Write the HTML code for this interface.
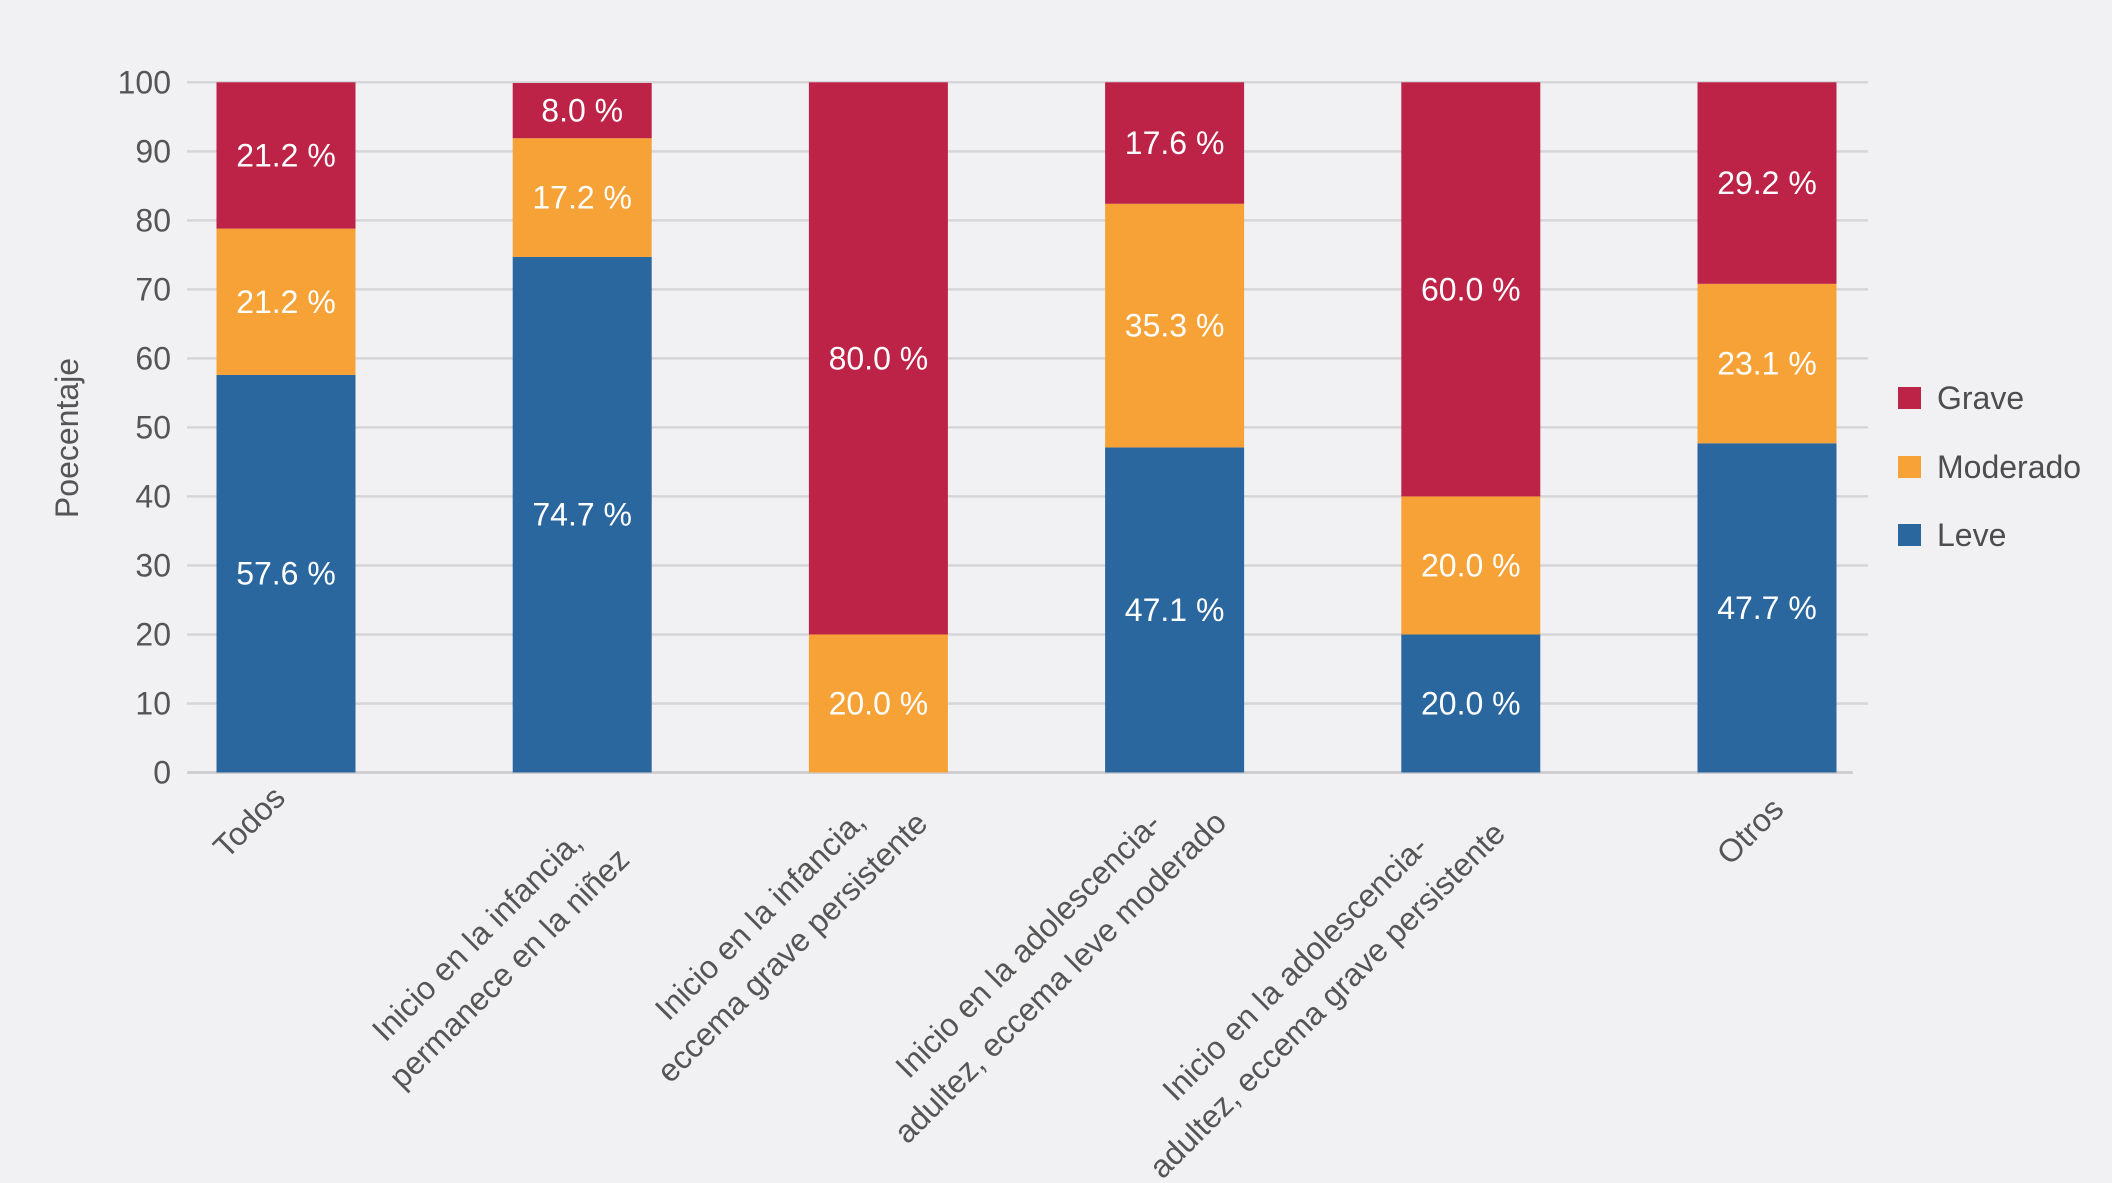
<!DOCTYPE html>
<html><head><meta charset="utf-8"><title>Gravedad por fenotipo</title>
<style>
html,body{margin:0;padding:0;background:#f1f1f3;}
svg{display:block;font-family:"Liberation Sans",Arial,sans-serif;}
</style></head>
<body>
<svg id="chart" width="2112" height="1183" viewBox="0 0 2112 1183" xmlns="http://www.w3.org/2000/svg">
<rect x="0" y="0" width="2112" height="1183" fill="#f1f1f3"/>
<g id="grid"></g>
<g id="yticks"></g>
<g id="bars"></g>
<g id="vals"></g>
<g id="xlabels"></g>
<text x="67" y="438" transform="rotate(-90 67 438)" text-anchor="middle" dominant-baseline="central" font-size="32" fill="#555">Poecentaje</text>
<g>
  <g>
    <rect x="1898" y="387" width="23" height="22" fill="#bc2347"/>
    <text x="1937" y="398" dominant-baseline="central" font-size="32" fill="#4d4d4f">Grave</text>
  </g>
  <g>
    <rect x="1898" y="456" width="23" height="22" fill="#f7a237"/>
    <text x="1937" y="467" dominant-baseline="central" font-size="32" fill="#4d4d4f">Moderado</text>
  </g>
  <g>
    <rect x="1898" y="524" width="23" height="22" fill="#2b679f"/>
    <text x="1937" y="535" dominant-baseline="central" font-size="32" fill="#4d4d4f">Leve</text>
  </g>
</g>
</svg>
<script>
const categories = ["Todos","Inicio en la infancia, permanece en la niñez","Inicio en la infancia, eccema grave persistente","Inicio en la adolescencia-adultez, eccema leve moderado","Inicio en la adolescencia-adultez, eccema grave persistente","Otros"];
const leve = [57.6, 74.7, 0, 47.1, 20.0, 47.7];
const moderado = [21.2, 17.2, 20.0, 35.3, 20.0, 23.1];
const grave = [21.2, 8.0, 80.0, 17.6, 60.0, 29.2];
const yTicks = [0,10,20,30,40,50,60,70,80,90,100];
const labelLines = [["Todos"],["Inicio en la infancia,","permanece en la niñez"],["Inicio en la infancia,","eccema grave persistente"],["Inicio en la adolescencia-","adultez, eccema leve moderado"],["Inicio en la adolescencia-","adultez, eccema grave persistente"],["Otros"]];

const NS = "http://www.w3.org/2000/svg";
const Y0 = 772.5, Y100 = 82.3, X0 = 286, STEP = 296.2, BW = 139;
const yScale = v => Y0 + (Y100 - Y0) * v / 100;
const xScale = i => X0 + i * STEP;
function mk(tag, attrs, parent){const e=document.createElementNS(NS,tag);for(const k in attrs)e.setAttribute(k,attrs[k]);parent.appendChild(e);return e;}

const grid = document.getElementById('grid');
const yt = document.getElementById('yticks');
yTicks.forEach(t=>{
  const y = yScale(t);
  const l = mk('line',{x1:187,x2:t===0?1853:1868,y1:y,y2:y,stroke:t===0?'#cfcfd1':'#d6d6d8','stroke-width':t===0?3:2.5},grid);
  
  
  const tx = mk('text',{x:171,y:y,'text-anchor':'end','dominant-baseline':'central','font-size':32,fill:'#555'},yt);
  tx.textContent = t;
  
  
});

const bars = document.getElementById('bars');
const vals = document.getElementById('vals');
const series = [{d:leve,c:'#2b679f',n:'leve'},{d:moderado,c:'#f7a237',n:'moderado'},{d:grave,c:'#bc2347',n:'grave'}];
categories.forEach((cat,i)=>{
  let base = 0;
  series.forEach(s=>{
    const v = s.d[i];
    if (v > 0) {
      const top = Math.min(base + v, 100);
      const yTop = yScale(top), yBot = yScale(base);
      const r = mk('rect',{x:xScale(i)-BW/2,y:yTop,width:BW,height:yBot-yTop,fill:s.c},bars);
      
      
      const t = mk('text',{x:xScale(i),y:(yTop+yBot)/2,'text-anchor':'middle','dominant-baseline':'central','font-size':32,fill:'#ffffff'},vals);
      t.textContent = v.toFixed(1) + ' %';
      
      
    }
    base += v;
  });
});

// rotated x labels: per-line centre positions (layout only)
const lineCentres = [[[249,822]],[[477,936],[509,968]],[[760,915],[792,947]],[[1028,945],[1060,977]],[[1295,968],[1327,1000]],[[1750,831]]];
const xl = document.getElementById('xlabels');
labelLines.forEach((lines,i)=>{
  const g = mk('g',{},xl);
  
  
  lines.forEach((ln,j)=>{
    const [cx,cy] = lineCentres[i][j];
    const t = mk('text',{x:cx,y:cy,'text-anchor':'middle','dominant-baseline':'central','font-size':32,fill:'#555',transform:`rotate(-45 ${cx} ${cy})`},g);
    t.textContent = ln;
  });
});
</script>
</body></html>
